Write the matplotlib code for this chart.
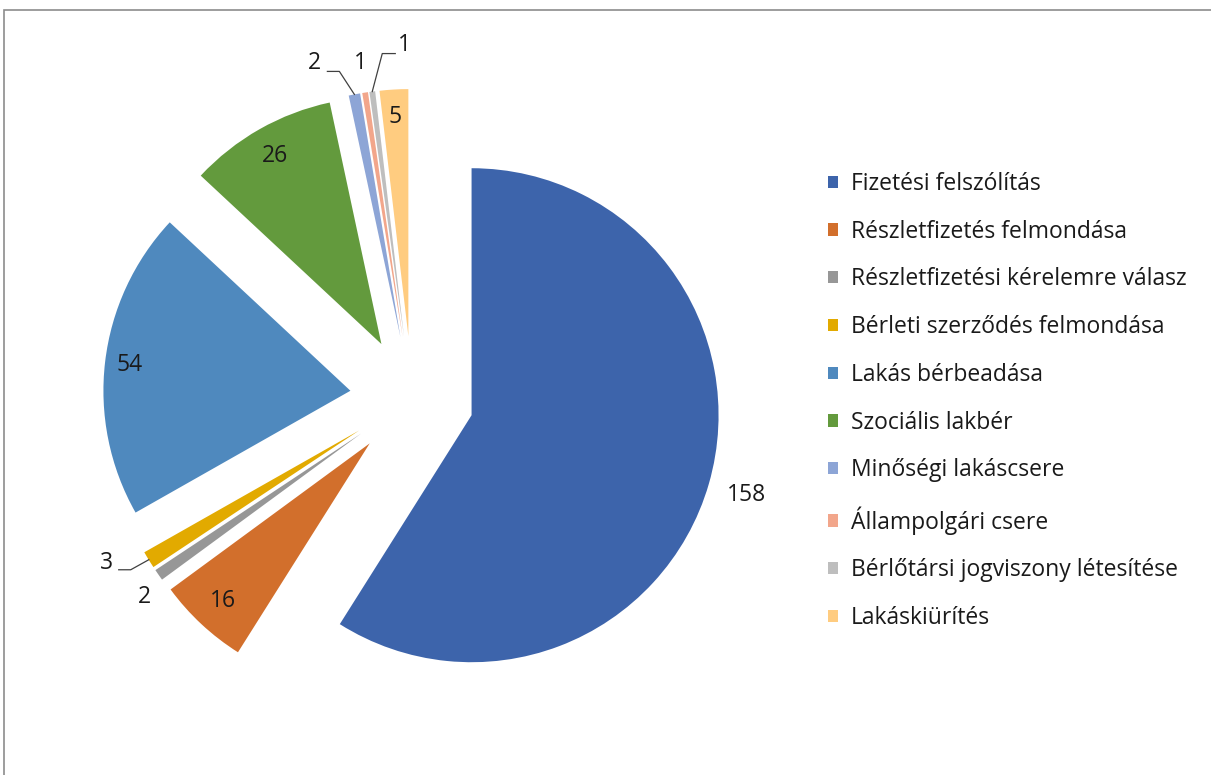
import numpy as np
import matplotlib.pyplot as plt
from matplotlib.patches import Rectangle

plt.rcParams['font.family'] = ['Open Sans', 'DejaVu Sans']

categories = ['Fizetési felszólítás', 'Részletfizetés felmondása',
              'Részletfizetési kérelemre válasz', 'Bérleti szerződés felmondása',
              'Lakás bérbeadása', 'Szociális lakbér', 'Minőségi lakáscsere',
              'Állampolgári csere', 'Bérlőtársi jogviszony létesítése',
              'Lakáskiürítés']
values = [158, 16, 2, 3, 54, 26, 2, 1, 1, 5]
colors = ['#3D64AB', '#D26F2C', '#979797', '#E2AA00', '#4F89BE',
          '#639A3D', '#8DA5D6', '#F2A68B', '#BEBEBE', '#FFCC80']

W, H = 1211, 775
fig = plt.figure(figsize=(W / 100, H / 100), dpi=100)
ax = fig.add_axes([0, 0, 1, 1])

R = 247
# explode is an absolute offset here (axes units = pixels)
wedges, _ = ax.pie(values, colors=colors, startangle=90, counterclock=False,
                   explode=[62] * len(values), radius=R, center=(412, 377),
                   wedgeprops=dict(linewidth=0), frame=True)
ax.set_xlim(0, W)
ax.set_ylim(0, H)
ax.set_aspect('equal')
ax.axis('off')

# inside labels: distance factor from slice tip; outside ones get a pixel offset
inside = {1: 0.87, 4: 0.9, 5: 0.875, 9: 0.89}
outside = {2: (-14, -22), 3: (-42, -3), 6: (-40, 31), 7: (-5, 30), 8: (32, 47)}
lbl_size = 16.5
txt_col = '#1a1a1a'

for i, w in enumerate(wedges):
    cx, cy = w.center
    mid = np.deg2rad((w.theta1 + w.theta2) / 2)
    if i in inside or i == 0:
        d = (1.16 if i == 0 else inside[i]) * R
        ax.text(cx + d * np.cos(mid), cy + d * np.sin(mid), str(values[i]),
                ha='center', va='center', fontsize=lbl_size, color=txt_col)
    else:
        ox, oy = cx + R * np.cos(mid), cy + R * np.sin(mid)
        dx, dy = outside[i]
        ax.text(ox + dx, oy + dy, str(values[i]), ha='center', va='center',
                fontsize=lbl_size, color=txt_col)

# leader lines (slice edge -> elbow -> next to label)
leaders = {6: [(-15, 23), (-27, 23)], 3: [(-18, -10), (-30, -10)], 8: [(10, 38), (23, 38)]}
for i, pts in leaders.items():
    w = wedges[i]
    cx, cy = w.center
    mid = np.deg2rad((w.theta1 + w.theta2) / 2)
    ox, oy = cx + R * np.cos(mid), cy + R * np.sin(mid)
    xs = [ox] + [ox + p[0] for p in pts]
    ys = [oy] + [oy + p[1] for p in pts]
    ax.plot(xs, ys, color='#404040', lw=0.9)

leg = ax.legend(wedges, categories, loc='upper left', frameon=False,
                bbox_to_anchor=(828 / W, 1 - 172 / H), bbox_transform=fig.transFigure,
                fontsize=16.5, handlelength=0.45, handleheight=0.45,
                handletextpad=0.55, labelspacing=1.035, borderpad=0, borderaxespad=0)
for t in leg.get_texts():
    t.set_color(txt_col)

fig.patches.append(Rectangle((4 / W, -0.1), 1.2, 1.1 - 10 / H, transform=fig.transFigure,
                             fill=False, edgecolor='#8c8c8c', lw=1.2))

fig.savefig('out.png', dpi=100, facecolor='white')
